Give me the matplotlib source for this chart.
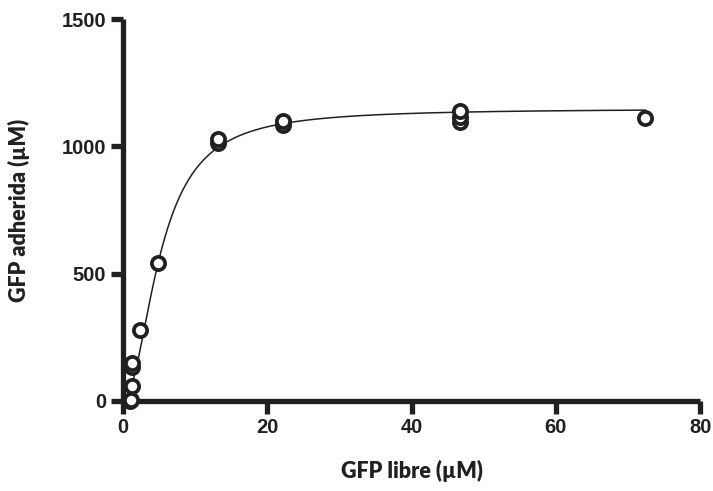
import numpy as np
import matplotlib
matplotlib.use("Agg")
import matplotlib.pyplot as plt

# datos
gfp_libre = [1.0, 1.1, 1.2, 1.2, 1.2, 2.3, 4.9, 13.1, 13.1, 22.2, 22.2, 46.7, 46.7, 46.7, 72.4]
gfp_adherida = [0, 5, 58, 135, 148, 279, 543, 1013, 1030, 1082, 1100, 1095, 1117, 1140, 1113]

# parametros del ajuste (Hill)
bmax = 1148
kd = 5.15
hill = 2.0

negro = "#231f20"

fig = plt.figure(figsize=(7.13, 4.91), dpi=100)
ax = fig.add_axes([0.1725, 0.1833, 0.8095, 0.778])

xs = np.linspace(min(gfp_libre), max(gfp_libre), 400)
ys = bmax * xs**hill / (kd**hill + xs**hill)
ax.plot(xs, ys, color=negro, lw=1.1, zorder=2)

ax.plot(gfp_libre, gfp_adherida, "o", ms=9.5, mfc="white", mec=negro, mew=2.7,
        zorder=3, clip_on=False)

ax.set_xlim(0, 80)
ax.set_ylim(0, 1500)
ax.set_xticks([0, 20, 40, 60, 80])
ax.set_yticks([0, 500, 1000, 1500])

for lado in ["top", "right"]:
    ax.spines[lado].set_visible(False)
for lado in ["left", "bottom"]:
    ax.spines[lado].set_linewidth(3.8)
    ax.spines[lado].set_color(negro)
    ax.spines[lado].set_capstyle("butt")

ax.tick_params(axis="both", length=9, width=3.8, color=negro, pad=3)
for lab in ax.get_xticklabels() + ax.get_yticklabels():
    lab.set_fontfamily(["Liberation Sans Narrow", "Liberation Sans"])
    lab.set_fontweight("bold")
    lab.set_fontsize(14.5)
    lab.set_color(negro)

ax.set_xlabel("GFP libre (µM)", fontfamily="Lato", fontweight="heavy",
              fontsize=15.5, color=negro, labelpad=17)
ax.set_ylabel("GFP adherida (µM)", fontfamily="Lato", fontweight="heavy",
              fontsize=15.5, color=negro, labelpad=23)

fig.savefig("out.png", dpi=100)
